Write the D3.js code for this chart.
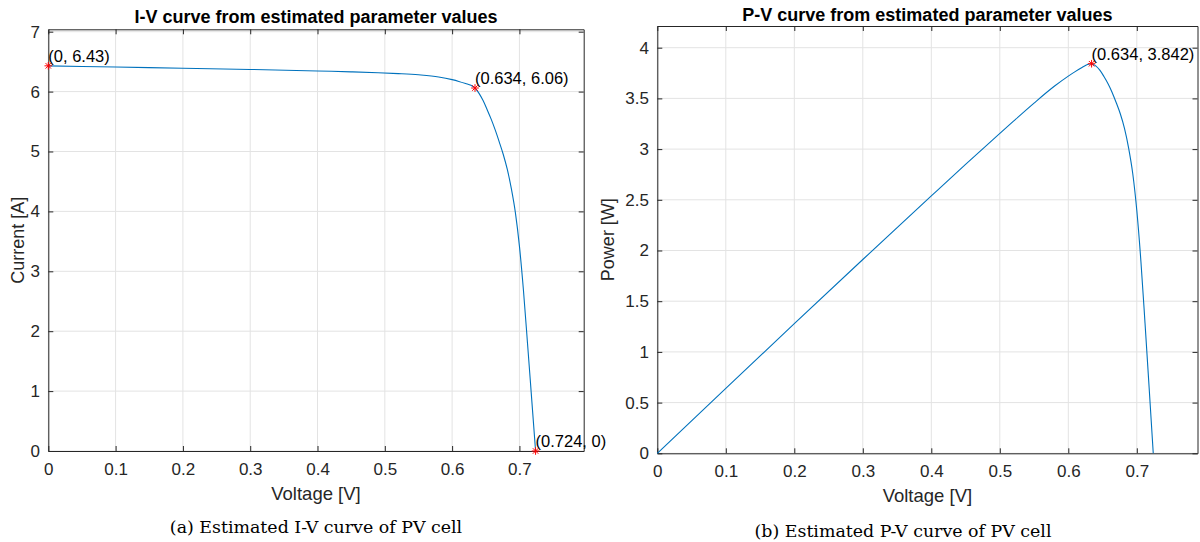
<!DOCTYPE html>
<meta charset="utf-8">
<script src="https://d3js.org/d3.v7.min.js"></script>
<style>
  body { margin: 0; background: #fff; }
  svg text { font-family: "Liberation Sans", Arial, sans-serif; }
</style>
<div id="chart"></div>
<script>

// values
var voltage = [0, 0.1, 0.2, 0.3, 0.4, 0.45, 0.49, 0.52, 0.55, 0.58, 0.60, 0.61, 0.62, 0.628, 0.634,
               0.640, 0.646, 0.652, 0.658, 0.664, 0.670, 0.676, 0.682, 0.688, 0.694, 0.700,
               0.706, 0.712, 0.718, 0.724];
var current = [6.43, 6.41, 6.39, 6.37, 6.345, 6.33, 6.315, 6.30, 6.28, 6.245, 6.20, 6.17, 6.135, 6.105, 6.06,
               5.97, 5.85, 5.70, 5.54, 5.36, 5.16, 4.95, 4.70, 4.38, 3.98, 3.42,
               2.68, 1.80, 0.90, 0];
var power   = [0, 0.641, 1.278, 1.911, 2.538, 2.849, 3.094, 3.276, 3.454, 3.622, 3.720, 3.764, 3.804, 3.834, 3.842,
               3.821, 3.779, 3.716, 3.645, 3.559, 3.457, 3.346, 3.205, 3.013, 2.762, 2.394,
               1.892, 1.282, 0.646, 0];

var ivMarkers = [{v: 0, y: 6.43, label: "(0, 6.43)"},
                 {v: 0.634, y: 6.06, label: "(0.634, 6.06)"},
                 {v: 0.724, y: 0, label: "(0.724, 0)"}];
var pvMarkers = [{v: 0.634, y: 3.842, label: "(0.634, 3.842)"}];

var xTicks = [0, 0.1, 0.2, 0.3, 0.4, 0.5, 0.6, 0.7];
var ivTicks = [0, 1, 2, 3, 4, 5, 6, 7];
var pvTicks = [0, 0.5, 1, 1.5, 2, 2.5, 3, 3.5, 4];

var width = 1200, height = 542;
var svg = d3.select("#chart").append("svg")
    .attr("width", width)
    .attr("height", height);

var axisColor = "#262626";
var lineColor = "#0072BD";

function panel(opt) {
  var x = d3.scaleLinear().domain(opt.xDomain).range([opt.left, opt.right]);
  var y = d3.scaleLinear().domain(opt.yDomain).range([opt.bottom, opt.top]);
  var g = svg.append("g");

  // grid
  g.selectAll(".gx").data(xTicks).enter().append("line")
    .attr("x1", d => x(d)).attr("x2", d => x(d))
    .attr("y1", opt.top).attr("y2", opt.bottom)
    .attr("stroke", "#e3e3e3").attr("stroke-width", 1);
  g.selectAll(".gy").data(opt.yTicks).enter().append("line")
    .attr("y1", d => y(d)).attr("y2", d => y(d))
    .attr("x1", opt.left).attr("x2", opt.right)
    .attr("stroke", "#e3e3e3").attr("stroke-width", 1);

  // axes (ticks pointing inward, mirrored on top and right)
  var fmt = d3.format("~g");
  var bottom = g.append("g").attr("transform", "translate(0," + opt.bottom + ")")
    .call(d3.axisBottom(x).tickValues(xTicks).tickSizeInner(-5).tickSizeOuter(0).tickPadding(12).tickFormat(fmt));
  var left = g.append("g").attr("transform", "translate(" + opt.left + ",0)")
    .call(d3.axisLeft(y).tickValues(opt.yTicks).tickSizeInner(-5).tickSizeOuter(0).tickPadding(10).tickFormat(fmt));
  var top = g.append("g").attr("transform", "translate(0," + opt.top + ")")
    .call(d3.axisTop(x).tickValues(xTicks).tickSizeInner(-5).tickSizeOuter(0).tickFormat(""));
  var right = g.append("g").attr("transform", "translate(" + opt.right + ",0)")
    .call(d3.axisRight(y).tickValues(opt.yTicks).tickSizeInner(-5).tickSizeOuter(0).tickFormat(""));
  [bottom, left, top, right].forEach(function(a) {
    a.select(".domain").attr("stroke", axisColor);
    a.selectAll(".tick line").attr("stroke", axisColor);
    a.selectAll(".tick text").attr("fill", axisColor).style("font-size", "17px");
  });
  left.selectAll(".tick text").attr("dx", "0.1em");

  // curve
  var line = d3.line()
    .x((d, i) => x(voltage[i]))
    .y(d => y(d))
    .curve(d3.curveMonotoneX);
  g.append("path")
    .datum(opt.values)
    .attr("fill", "none")
    .attr("stroke", lineColor)
    .attr("stroke-width", 1.1)
    .attr("d", line);

  // markers
  var r = 3.8;
  var m = g.selectAll(".mk").data(opt.markers).enter().append("g")
    .attr("transform", d => "translate(" + x(d.v) + "," + y(d.y) + ")");
  m.append("path")
    .attr("d", "M" + (-r) + ",0H" + r + "M0," + (-r) + "V" + r +
               "M" + (-r * 0.72) + "," + (-r * 0.72) + "L" + (r * 0.72) + "," + (r * 0.72) +
               "M" + (-r * 0.72) + "," + (r * 0.72) + "L" + (r * 0.72) + "," + (-r * 0.72))
    .attr("stroke", "#ff0000").attr("stroke-width", 1).attr("fill", "none");
  m.append("text")
    .attr("x", 0)
    .attr("y", -4)
    .attr("fill", "#000")
    .style("font-size", "16.5px")
    .text(d => d.label);

  // title and labels
  var cx = (opt.left + opt.right) / 2;
  g.append("text")
    .attr("x", cx).attr("y", opt.titleY)
    .attr("text-anchor", "middle")
    .style("font-size", "18px").style("font-weight", "bold")
    .text(opt.title);
  g.append("text")
    .attr("x", cx).attr("y", opt.xLabelY)
    .attr("text-anchor", "middle")
    .attr("fill", axisColor)
    .style("font-size", "18.5px")
    .text("Voltage [V]");
  g.append("text")
    .attr("transform", "translate(" + opt.yLabelX + "," + ((opt.top + opt.bottom) / 2) + ") rotate(-90)")
    .attr("text-anchor", "middle")
    .attr("fill", axisColor)
    .style("font-size", "18px")
    .text(opt.yLabel);
  g.append("text")
    .attr("x", opt.captionX).attr("y", opt.captionY)
    .attr("text-anchor", "middle")
    .style("font-family", "'DejaVu Serif', 'Liberation Serif', serif")
    .style("font-size", "17.4px")
    .text(opt.caption);
}

panel({
  left: 48.3, right: 583.7, top: 29.3, bottom: 451,
  xDomain: [0, 0.7955], yDomain: [0, 7.04],
  yTicks: ivTicks, values: current, markers: ivMarkers,
  title: "I-V curve from estimated parameter values", titleY: 23,
  xLabelY: 500, yLabel: "Current [A]", yLabelX: 24,
  caption: "(a) Estimated I-V curve of PV cell", captionX: 316, captionY: 533
});

panel({
  left: 657.3, right: 1197.5, top: 26, bottom: 453.3,
  xDomain: [0, 0.7886], yDomain: [0, 4.214],
  yTicks: pvTicks, values: power, markers: pvMarkers,
  title: "P-V curve from estimated parameter values", titleY: 21,
  xLabelY: 502, yLabel: "Power [W]", yLabelX: 614,
  caption: "(b) Estimated P-V curve of PV cell", captionX: 903, captionY: 537
});

</script>
